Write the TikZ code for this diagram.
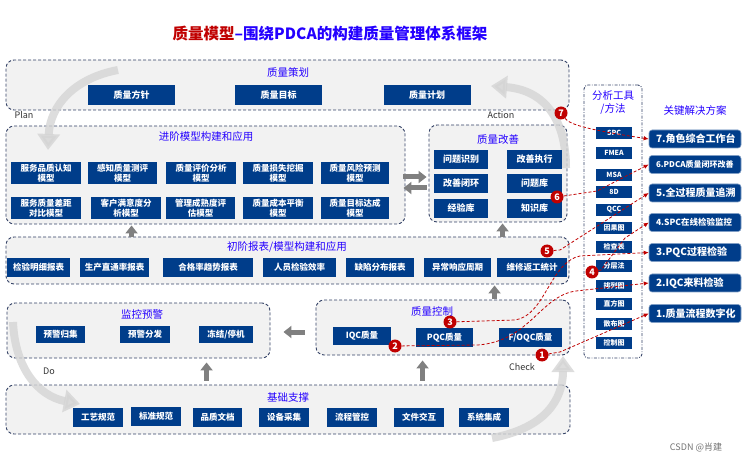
\documentclass[tikz,border=0pt]{standalone}
\usepackage{fontspec}
\setmainfont{Noto Sans CJK SC}
\usetikzlibrary{arrows.meta,positioning,fit,calc}
\definecolor{qblue}{RGB}{0,61,138}
\definecolor{tblue}{RGB}{36,0,255}
\definecolor{qred}{RGB}{192,0,0}
\definecolor{bandfill}{RGB}{242,242,242}
\definecolor{bandline}{RGB}{52,66,102}
\definecolor{ggray}{RGB}{128,128,128}
\definecolor{arcgray}{RGB}{212,212,212}
\newcommand{\pxfont}[1]{\fontsize{#1pt}{#1pt}\selectfont}

\begin{document}
\begin{tikzpicture}[x=1pt,y=-1pt,
  band/.style={draw=bandline, dash pattern=on 3pt off 2pt, fill=bandfill, rounded corners=8pt, line width=0.9pt, inner sep=0pt},
  btitle/.style={text=tblue, font=\pxfont{10.5}, inner sep=0pt},
  blk/.style={fill=qblue, text=white, font=\bfseries\fontsize{8.5pt}{10pt}\selectfont, inner sep=0pt, align=center},
  tool/.style={blk, minimum width=36pt, minimum height=12pt, font=\bfseries\pxfont{7}},
  sol/.style={fill=qblue, draw=qblue!50!white, line width=0.6pt, rounded corners=3pt, text=white, font=\bfseries\pxfont{10}, minimum width=92pt, minimum height=18pt, inner xsep=0pt, text width=78pt, align=left},
  garrow/.style={draw=ggray, line width=5pt, -{Triangle[length=8pt,width=12pt]}},
  pdca/.style={draw=arcgray, line width=8pt, opacity=0.8, -{Triangle[length=16pt,width=22pt]}},
  redline/.style={draw=qred, line width=0.8pt, dash pattern=on 3pt off 2pt, -{Latex[length=5pt,width=4.5pt]}},
  num/.style={circle, fill=qred, text=white, font=\bfseries\pxfont{9}, minimum size=13pt, inner sep=0pt},
  tag/.style={font=\pxfont{9}, text=black!80, inner sep=0pt}]
  \useasboundingbox (0,0) rectangle (744,462);

  % bands
  \node[band, fit={(6,60)(569,110)}] (cehua) {};
  \node[band, fit={(6,126)(405,224)}] (jinjie) {};
  \node[band, fit={(429,125)(567,222)}] (gaishan) {};
  \node[band, fit={(6,237)(569,284)}] (chujie) {};
  \node[band, fit={(7,303)(270,358)}] (jiankong) {};
  \node[band, fit={(316,300)(570,355)}] (kongzhi) {};
  \node[band, fit={(6,385)(570,434)}] (jichu) {};

  % PDCA cycle
  \draw[pdca] (118,70) .. controls (75,78) and (50,105) .. (48,150);
  \draw[pdca] (566,168) .. controls (566,120) and (545,90) .. (491,86);
  \draw[pdca] (13,322) .. controls (15,368) and (38,396) .. (80,404);
  \draw[pdca] (492,438) .. controls (545,428) and (563,400) .. (563,356);
  \node[tag] (plan) at (24,115) {Plan};
  \node[tag] (action) at (501,115) {Action};
  \node[tag] (do) at (49,371) {Do};
  \node[tag] (check) at (522,367) {Check};

  % titles
  \node[font=\bfseries\pxfont{15.5}, inner sep=0pt] (title) at (330,34)
    {\textcolor{qred}{质量模型}\textcolor{tblue}{–围绕PDCA的构建质量管理体系框架}};
  \node[btitle] (cehua-t) at (288,72) {质量策划};
  \node[btitle] (jinjie-t) at (206,137) {进阶模型构建和应用};
  \node[btitle] (gaishan-t) at (498,140) {质量改善};
  \node[btitle] (chujie-t) at (287,247) {初阶报表/模型构建和应用};
  \node[btitle] (jiankong-t) at (142,314) {监控预警};
  \node[btitle] (kongzhi-t) at (432,311) {质量控制};
  \node[btitle] (jichu-t) at (288,398) {基础支撑};

  % 质量策划
  \node[blk, minimum width=87pt, minimum height=20pt, font=\bfseries\pxfont{9}] (fangzhen) at (131.5,95) {质量方针};
  \node[blk, minimum width=87pt, minimum height=20pt, font=\bfseries\pxfont{9}] (mubiao) at (278.5,95) {质量目标};
  \node[blk, minimum width=87pt, minimum height=20pt, font=\bfseries\pxfont{9}] (jihua) at (427,95) {质量计划};

  % 进阶模型
  \node[blk, minimum width=70pt, minimum height=22pt] (m1) at (46,173) {服务品质认知\\模型};
  \node[blk, minimum width=69pt, minimum height=22pt] (m2) at (122.5,173) {感知质量测评\\模型};
  \node[blk, minimum width=70pt, minimum height=22pt] (m3) at (201,173) {质量评价分析\\模型};
  \node[blk, minimum width=70pt, minimum height=22pt] (m4) at (278,173) {质量损失挖掘\\模型};
  \node[blk, minimum width=68pt, minimum height=22pt] (m5) at (355,173) {质量风险预测\\模型};
  \node[blk, minimum width=70pt, minimum height=22pt] (m6) at (46,208.5) {服务质量差距\\对比模型};
  \node[blk, minimum width=70pt, minimum height=22pt] (m7) at (126,208.5) {客户满意度分\\析模型};
  \node[blk, minimum width=69pt, minimum height=22pt] (m8) at (200.5,208.5) {管理成熟度评\\估模型};
  \node[blk, minimum width=70pt, minimum height=22pt] (m9) at (278,208.5) {质量成本平衡\\模型};
  \node[blk, minimum width=68pt, minimum height=22pt] (m10) at (355,208.5) {质量目标达成\\模型};

  % 质量改善
  \node[blk, minimum width=54pt, minimum height=19pt, font=\bfseries\pxfont{9}] (g1) at (461,159.5) {问题识别};
  \node[blk, minimum width=54pt, minimum height=19pt, font=\bfseries\pxfont{9}] (g2) at (461,183.5) {改善闭环};
  \node[blk, minimum width=54pt, minimum height=19pt, font=\bfseries\pxfont{9}] (g3) at (461,208.5) {经验库};
  \node[blk, minimum width=55pt, minimum height=19pt, font=\bfseries\pxfont{9}] (g4) at (534.5,159.5) {改善执行};
  \node[blk, minimum width=55pt, minimum height=19pt, font=\bfseries\pxfont{9}] (g5) at (534.5,183.5) {问题库};
  \node[blk, minimum width=55pt, minimum height=19pt, font=\bfseries\pxfont{9}] (g6) at (534.5,208.5) {知识库};

  % 初阶报表
  \node[blk, minimum width=63pt, minimum height=19pt] (r1) at (38.5,267.5) {检验明细报表};
  \node[blk, minimum width=69pt, minimum height=19pt] (r2) at (114.5,267.5) {生产直通率报表};
  \node[blk, minimum width=90pt, minimum height=19pt] (r3) at (208,267.5) {合格率趋势报表};
  \node[blk, minimum width=73pt, minimum height=19pt] (r4) at (299.5,267.5) {人员检验效率};
  \node[blk, minimum width=68pt, minimum height=19pt] (r5) at (380,267.5) {缺陷分布报表};
  \node[blk, minimum width=67pt, minimum height=19pt] (r6) at (457.5,267.5) {异常响应周期};
  \node[blk, minimum width=70pt, minimum height=19pt] (r7) at (532,267.5) {维修返工统计};

  % 监控预警 / 质量控制
  \node[blk, minimum width=49pt, minimum height=17pt] (w1) at (60.5,334.5) {预警归集};
  \node[blk, minimum width=50pt, minimum height=17pt] (w2) at (145,334.5) {预警分发};
  \node[blk, minimum width=54pt, minimum height=17pt] (w3) at (226,334.5) {冻结/停机};
  \node[blk, minimum width=58pt, minimum height=18pt] (k1) at (362,336) {IQC质量};
  \node[blk, minimum width=57pt, minimum height=19pt] (k2) at (444.5,337.5) {PQC质量};
  \node[blk, minimum width=63pt, minimum height=19pt] (k3) at (530.5,337.5) {F/OQC质量};

  % 基础支撑
  \node[blk, minimum width=50pt, minimum height=19pt] (b1) at (98,417) {工艺规范};
  \node[blk, minimum width=50pt, minimum height=19pt] (b2) at (156,416) {标准规范};
  \node[blk, minimum width=49pt, minimum height=19pt] (b3) at (217.5,417) {品质文档};
  \node[blk, minimum width=50pt, minimum height=19pt] (b4) at (284,417) {设备采集};
  \node[blk, minimum width=50pt, minimum height=19pt] (b5) at (352,417) {流程管控};
  \node[blk, minimum width=50pt, minimum height=19pt] (b6) at (419,417) {文件交互};
  \node[blk, minimum width=50pt, minimum height=19pt] (b7) at (484,417) {系统集成};

  % gray flow arrows
  \draw[garrow] ($(jinjie.east)+(-2,2)$) -- ($(jinjie.east -| gaishan.west)+(-2,2)$);
  \draw[garrow] ($(jinjie.east -| gaishan.west)+(-2,13)$) -- ($(jinjie.east)+(-2,13)$);
  \draw[garrow] ($(kongzhi.west)+(-11,4.5)$) -- ($(kongzhi.west -| jiankong.east)+(13,4.5)$);
  \draw[garrow] ($(jichu.north west)+(201,-4)$) -- ($(jiankong.south west)+(200,4)$);
  \draw[garrow] ($(jichu.north west)+(417,-4)$) -- ($(kongzhi.south west)+(107,5)$);
  \draw[garrow] ($(kongzhi.north west)+(179,-1)$) -- ($(chujie.south west)+(489,1)$);
  \draw[garrow] ($(chujie.north west)+(126,0)$) -- ($(jinjie.south west)+(126,1)$);
  \draw[garrow] ($(chujie.north west)+(497,0)$) -- ($(gaishan.south west)+(74,1)$);

  % 分析工具/方法
  \node[draw=bandline, dash pattern=on 3pt off 1.5pt on 0.8pt off 1.5pt, rounded corners=4pt,
    line width=0.9pt, inner sep=0pt, fit={(584,85)(642,358)}] (tools) {};
  \node[btitle, align=center, font=\fontsize{10.5pt}{13pt}\selectfont] (tools-t) at (613,103) {分析工具\\/方法};
  \foreach \t/\y [count=\i] in {SPC/133, FMEA/153, MSA/175, 8D/192, QCC/210, 因果图/228,
      检查表/247, 分层法/266, 排列图/286, 直方图/304, 散布图/324, 控制图/343}
    \node[tool] (t\i) at (614,\y) {\t};

  % 关键解决方案
  \node[btitle] (sol-t) at (695,111) {关键解决方案};
  \node[sol] (s7) at (695,139) {7.角色综合工作台};
  \node[sol, font=\bfseries\pxfont{8}] (s6) at (695,164.5) {6.PDCA质量闭环改善};
  \node[sol] (s5) at (695,193) {5.全过程质量追溯};
  \node[sol, font=\bfseries\pxfont{8.5}] (s4) at (695,222.5) {4.SPC在线检验监控};
  \node[sol] (s3) at (695,252.5) {3.PQC过程检验};
  \node[sol] (s2) at (695,283) {2.IQC来料检验};
  \node[sol] (s1) at (695,313.5) {1.质量流程数字化};

  % numbered links
  \node[num] (n1) at (542,355) {1};
  \node[num] (n2) at (395,346) {2};
  \node[num] (n3) at (450,322) {3};
  \node[num] (n4) at (592,272) {4};
  \node[num] (n5) at (547,251) {5};
  \node[num] (n6) at (557,197) {6};
  \node[num] (n7) at (561,113) {7};
  \draw[redline] (n7) .. controls (570,125) and (590,130) .. (s7.west);
  \draw[redline] (n6) -- (597,191) -- (s6.west);
  \draw[redline] (n5) -- (560,250) -- (s5.west);
  \draw[redline] (n4) -- (601,270) -- (625,238) -- (s4.west);
  \draw[redline] (n3) -- (515,320) .. controls (545,316) and (550,262) .. (580,256) -- (s3.west);
  \draw[redline] (n2) -- (478,345) .. controls (530,341) and (540,296) .. (576,291) -- (s2.west);
  \draw[redline] (n1) -- (560,352) -- (s1.west);

  \node[font=\pxfont{9}, text=black!55, inner sep=0pt] (mark) at (696,447) {CSDN @肖建};
\end{tikzpicture}
\end{document}
